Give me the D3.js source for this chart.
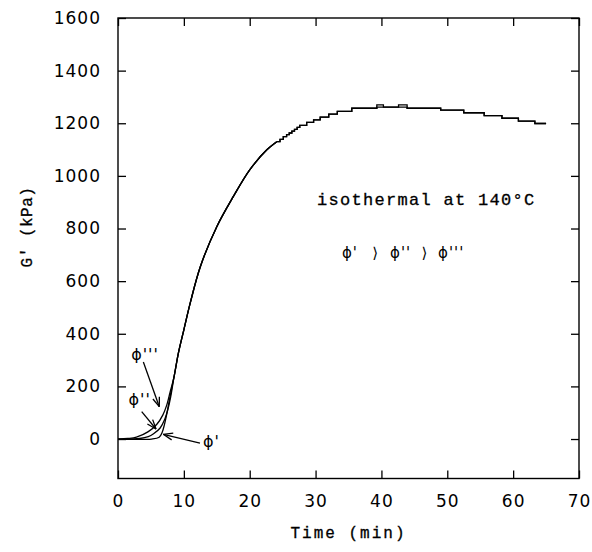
<!DOCTYPE html>
<html>
<head>
<meta charset="utf-8">
<script src="https://cdn.jsdelivr.net/npm/d3@7"></script>
<style>
  body { margin: 0; background: #fff; }
  svg { display: block; }
</style>
</head>
<body>
<div id="chart"></div>
<script>
var width = 592,
    height = 552;

// axis ticks
var xTicks = [0, 10, 20, 30, 40, 50, 60, 70];
var yTicks = [0, 200, 400, 600, 800, 1000, 1200, 1400, 1600];

// early part of the three curves (time in min, G' in kPa)
var timeP3 = [0, 1.5, 2.8, 4.6, 5.9, 6.8, 7.4, 7.9, 8.5];
var gP3    = [0, 2, 7, 28, 56, 91, 129, 177, 235];
var timeP2 = [0, 3.3, 4.6, 5.4, 6.4, 7.1, 7.6, 8.0, 8.5];
var gP2    = [0, 2, 9, 20, 42, 75, 115, 160, 235];
var timeP1 = [0, 5.1, 6.25, 6.7, 7.05, 7.4, 7.8, 8.5];
var gP1    = [0, 0, 7, 25, 55, 95, 148, 235];

// common rise once the curves meet
var riseTime = [8.5, 9.2, 10, 11, 12.5, 15, 17.5, 20, 22.6, 24.1];
var riseG    = [235, 330, 415, 520, 655, 807, 921, 1023, 1099, 1130];

// stepped plateau (recorded values are quantised)
var stepTime = [24.1, 24.6, 25.1, 25.6, 26.0, 26.4, 26.8, 27.2, 27.6, 28.65, 29.7, 30.7, 32.0, 33.3, 35.5, 39.3, 40.3, 42.6, 43.9, 49.0, 52.5, 55.6, 58.3, 60.8, 63.3, 65.0];
var stepG    = [1130, 1139, 1149, 1157, 1163, 1170, 1177, 1184, 1192, 1203, 1213, 1223, 1235, 1245, 1257, 1270, 1261, 1270, 1257, 1250, 1240, 1229, 1219, 1208, 1199, 1199];
var stepGAlt = [1130, 1139, 1149, 1157, 1163, 1170, 1177, 1184, 1192, 1203, 1213, 1223, 1235, 1245, 1257, 1261, 1261, 1261, 1257, 1250, 1240, 1229, 1219, 1208, 1199, 1199];

var x = d3.scaleLinear().domain([0, 70]).range([118, 579]);
var y = d3.scaleLinear().domain([-150, 1600]).range([478.5, 18]);

var svg = d3.select("#chart").append("svg")
    .attr("width", width)
    .attr("height", height);

function zip(ts, gs) {
  return ts.map(function(t, i) { return [t, gs[i]]; });
}

var tickFont = "'DejaVu Sans', sans-serif";
var monoFont = "'Liberation Mono', 'DejaVu Sans Mono', monospace";

// bottom axis
var gx = svg.append("g")
    .attr("transform", "translate(0," + y(-150) + ")")
    .call(d3.axisBottom(x).tickValues(xTicks).tickSize(-8).tickPadding(16.5).tickFormat(d3.format("d")));
// left axis
var gy = svg.append("g")
    .attr("transform", "translate(" + x(0) + ",0)")
    .call(d3.axisLeft(y).tickValues(yTicks).tickSize(-8).tickPadding(17).tickFormat(d3.format("d")));
// top and right, ticks only
var gt = svg.append("g")
    .attr("transform", "translate(0," + y(1600) + ")")
    .call(d3.axisTop(x).tickValues(xTicks).tickSize(-8).tickFormat(""));
var gr = svg.append("g")
    .attr("transform", "translate(" + x(70) + ",0)")
    .call(d3.axisRight(y).tickValues(yTicks).tickSize(-8).tickFormat(""));

[gx, gy, gt, gr].forEach(function(g) {
  g.select(".domain").remove();
  g.selectAll(".tick line").attr("stroke", "#000").attr("stroke-width", 1.3);
  g.selectAll(".tick text")
    .attr("fill", "#000")
    .style("font-family", tickFont)
    .style("font-size", "17px")
    .style("letter-spacing", "1px");
});

svg.append("rect")
    .attr("x", x(0))
    .attr("y", y(1600))
    .attr("width", x(70) - x(0))
    .attr("height", y(-150) - y(1600))
    .attr("fill", "none")
    .attr("stroke", "#000")
    .attr("stroke-width", 1.4);

// axis titles
svg.append("text")
    .attr("x", (x(0) + x(70)) / 2)
    .attr("y", 538)
    .attr("text-anchor", "middle")
    .style("font-family", monoFont)
    .style("font-size", "16px")
    .style("letter-spacing", "2px")
    .attr("stroke", "#000").attr("stroke-width", 0.3)
    .text("Time (min)");

svg.append("text")
    .attr("transform", "translate(32," + 227 + ") rotate(-90)")
    .attr("text-anchor", "middle")
    .style("font-family", monoFont)
    .style("font-size", "16px")
    .style("letter-spacing", "0.5px")
    .attr("stroke", "#000").attr("stroke-width", 0.3)
    .text("G' (kPa)");

// curves
var smooth = d3.line()
    .x(function(d) { return x(d[0]); })
    .y(function(d) { return y(d[1]); })
    .curve(d3.curveCatmullRom.alpha(0.5));

var stepped = d3.line()
    .x(function(d) { return x(d[0]); })
    .y(function(d) { return y(d[1]); })
    .curve(d3.curveStepAfter);

var rise = zip(riseTime, riseG).slice(1);
var series = [zip(timeP1, gP1), zip(timeP2, gP2), zip(timeP3, gP3)];

svg.selectAll("path.curve")
    .data(series)
    .enter()
    .append("path")
    .attr("class", "curve")
    .attr("d", function(d) { return smooth(d.concat(rise)); })
    .attr("fill", "none")
    .attr("stroke", "#000")
    .attr("stroke-width", 1.3);

svg.selectAll("path.plateau")
    .data([zip(stepTime, stepG), zip(stepTime, stepGAlt)])
    .enter()
    .append("path")
    .attr("class", "plateau")
    .attr("d", stepped)
    .attr("fill", "none")
    .attr("stroke", "#000")
    .attr("stroke-width", 1.3);

// annotations
svg.append("text")
    .attr("x", x(30.2))
    .attr("y", y(890))
    .style("font-family", monoFont)
    .style("font-size", "17px")
    .style("letter-spacing", "1.3px")
    .attr("stroke", "#000").attr("stroke-width", 0.3)
    .text("isothermal at 140°C");

var phiFont = "'DejaVu Sans', sans-serif";
var order = [
  {t: 34.0, s: "\u03D5'"},
  {t: 38.6, s: "\u27E9"},
  {t: 41.3, s: "\u03D5''"},
  {t: 46.1, s: "\u27E9"},
  {t: 48.6, s: "\u03D5'''"}
];
svg.selectAll("text.order")
    .data(order)
    .enter()
    .append("text")
    .attr("class", "order")
    .attr("x", function(d) { return x(d.t); })
    .attr("y", y(688))
    .style("font-family", phiFont)
    .style("font-size", "15px")
    .style("letter-spacing", "1px")
    .text(function(d) { return d.s; });

var labels = [
  {t: 2.0, g: 300, s: "\u03D5'''"},
  {t: 1.6, g: 129, s: "\u03D5''"},
  {t: 12.9, g: -30, s: "\u03D5'"}
];
svg.selectAll("text.lab")
    .data(labels)
    .enter()
    .append("text")
    .attr("class", "lab")
    .attr("x", function(d) { return x(d.t); })
    .attr("y", function(d) { return y(d.g); })
    .style("font-family", phiFont)
    .style("font-size", "16px")
    .style("letter-spacing", "1px")
    .text(function(d) { return d.s; });

var arrows = [
  {t0: 3.85, g0: 293, t1: 6.27, g1: 123},
  {t0: 3.6,  g0: 104, t1: 5.77, g1: 38},
  {t0: 12.45, g0: -16, t1: 6.88, g1: 18}
];
arrows.forEach(function(a) {
  var x0 = x(a.t0), y0 = y(a.g0), x1 = x(a.t1), y1 = y(a.g1);
  var ang = Math.atan2(y1 - y0, x1 - x0),
      len = 10, spread = 0.35;
  svg.append("line")
      .attr("x1", x0).attr("y1", y0)
      .attr("x2", x1).attr("y2", y1)
      .attr("stroke", "#000").attr("stroke-width", 1.3);
  [-spread, spread].forEach(function(s) {
    svg.append("line")
        .attr("x1", x1).attr("y1", y1)
        .attr("x2", x1 - len * Math.cos(ang + s))
        .attr("y2", y1 - len * Math.sin(ang + s))
        .attr("stroke", "#000").attr("stroke-width", 1.3);
  });
});
</script>
</body>
</html>
